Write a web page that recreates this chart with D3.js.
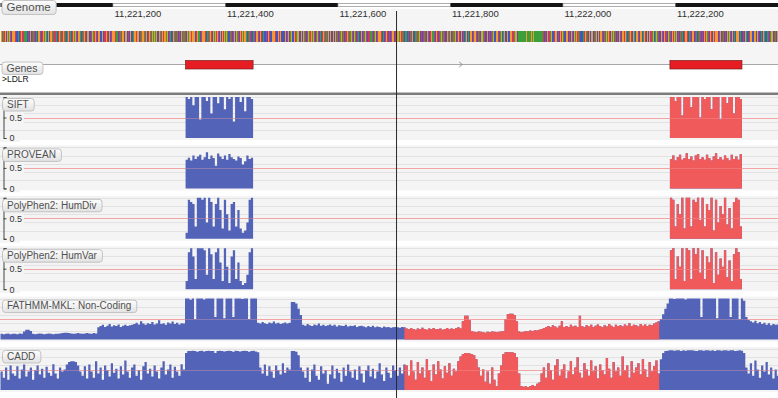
<!DOCTYPE html>
<html><head><meta charset="utf-8">
<script src="https://cdn.jsdelivr.net/npm/d3@7"></script>
<style>body{margin:0;background:#fff}svg{display:block;font-family:"Liberation Sans",Arial,sans-serif}</style>
</head><body><svg id="c" width="778" height="398"></svg>
<script>
// ---------- data ----------
const regionStart = 11221000, regionEnd = 11222383;
const rulerTicks = [11221000, 11221200, 11221400, 11221600, 11221800, 11222000, 11222200, 11222400];
const cursorPos = 11221704;
const geneName = "LDLR";
const exons = [[11221329, 11221449], [11222190, 11222318]];
const strandArrowPos = 11221819;
const sequence =
 "GGCTCAGTGCCTGAAGTTCCAGAGGCTTCTCAGCCTGGGTTCAGAGACGTCCTGGCTTAG" +
 "TCCAGCTGAGGTCATTGCAGGAACTGCCGAGCACTTGTGACCCTGCAGTCTGGAGTCCTA" +
 "GGTCACCTTGCAAGTTCGGAGCACCTGATGCTCAGAGTCCTTGGCAGTGATCCAGGACTC" +
 "AGCCTGTGGTTCAGACATCGGAGCTGAACCTTCAGTGCGTCAGGACTTGCAGCTCGATGG" +
 "CTTGAGCCTCAGGTGACTAGCCTTGGACTCGATGCAGGTCCTGAACTGCTTGAGCAGTCC" +
 "TGACGCTGGAGTTCAGCCTCAGGTGACATGCTGCAGTGCTCGAGGACCTTGACAGCTTCG" +
 "GAGCTCCAGTGACGTTCAGCACGTGGATCCTGCAGTTCGACGGAGCTCAGTCCTTGACGG" +
 "CAGTCTGCTCGACGTGGAGCTCATTGCCGACTGCAGGATCCTGTGCGAGCTCTGCAGTTC" +
 "GCTGCGAGTCCTCAGTGGACGCTCCAGTCGTGCCGAGGTCCTGCTCAGTGACGCTGCAGG" +
 "AGTCCTCGGACTGCAGGTTCCACGGTTCAGCCTGGAGTCACTTGCAGGCTCGACTGGTGA" +
 "CCTGAGGTCAGCATCTGGACTCAGTTGCAGGACCTGATCCAGGCTTCAGTTGCCTTGAGA" +
 "CTTCAGGTCCTGAGAGCTTCAGCCTGGTGCATCCTTGAGACCTCAGTGCAGGTCATTGCA" +
 "GAGCCTTCACTGGTCCTAGAGTCAGGCTTCCTGAGTGCAGTCCTTGGAGACTGCAGTCCG" +
 "TGAGCTCAGTTCCAGGACTGGCTTCAGAGTCCTGGTGCAGACTTCCAGGTCATCAGTGCC" +
 "TGGAGCTCAAGTCCTGGCAGTTCCAGACGTGCTCAGGTCCTGAGCTTCAGGTCCAGTCAC" +
 "GGTCCTGAGCTTCAGGTGCCAAAGAAAAGAAAAAAGAAAAAAAGAAAGAAAAAAAGAAAA" +
 "AAGAGTCCTGCAGCTTCAGGTCACTGGAGCCTGCAGTTCGAGCTCAGGACTTGCAGTCCTG" +
 "GAGCTCAGTGCCTCGACTGGAGTCCAGCTGTGCCTCAGGACTGCTGAGCTCCAGTTGCAGG" +
 "TCCTGACGCTGAGCTCCAGGTCAGTGCTGGAGCCTCAGTTCCTGGACTGAGCTCAGTGCCG" +
 "AGGTCCTGCAGCTCTGAGTCCAGGACTGCTCAGTGCAGCTTCCTGGAGTCAGCTCGAGGTC" +
 "CTGCAGTGACCTCGAGCTGCAGTCCTGGACGTCAGCTGAGTCCTGCAGGTCGACTCCAGTG" +
 "CAGCTTGGAGTCCTGACGTCAGCTCCTGGAGCTGCAGTCACCTGAGGTCCAGCTCTGCAGG" +
 "ACTCCTGGAGCTCAGTGCAGGTCCTCAGCTGGACTCGAGTCCAGGTGCCTCAGCTGGAGTC" +
 "CTGCAGGTCAGCTCCTGGAGTCAGGCTCAGTGCC";
const baseColors = {A: "#3c9f3c", C: "#4455c2", G: "#f39a2e", T: "#cc3b60"};

const trackNames = ["SIFT", "PROVEAN", "PolyPhen2: HumDiv", "PolyPhen2: HumVar", "FATHMM-MKL: Non-Coding", "CADD"];
const binSize = 4; // bases per value
// exon-level scores (percent), exon 1 then exon 2
const siftExon1 = [100,95,100,80,100,100,45,100,100,90,100,60,100,100,85,100,100,70,100,95,100,40,100,100,88,100,65,100,100,95];
const siftExon2 = [100,100,90,100,100,55,100,100,100,75,100,100,100,50,100,95,100,100,70,100,100,100,45,100,100,85,100,100,60,100,100,95];
const proveanExon1 = [70,75,68,80,72,78,82,70,76,88,72,80,74,55,85,78,72,80,70,84,76,72,68,78,74,58,66,80,72,75];
const proveanExon2 = [72,80,68,76,82,70,74,86,72,78,68,80,84,72,76,70,82,74,68,78,86,72,76,70,80,74,68,82,72,78,70,84];
const humDivExon1 = [15,95,90,85,30,100,100,95,100,40,100,90,30,85,100,70,25,95,60,20,85,90,30,70,25,15,20,40,95,100];
const humDivExon2 = [100,95,30,85,60,100,25,100,100,30,95,90,100,45,100,30,85,70,100,20,95,40,80,60,100,35,75,25,90,100,95,30];
const humVarExon1 = [20,90,100,80,25,100,100,100,95,35,100,85,25,90,100,65,20,100,55,15,80,95,25,65,20,10,15,35,90,100];
const humVarExon2 = [95,100,25,80,55,100,20,100,95,25,100,85,100,40,95,25,80,65,100,15,90,35,75,55,95,30,70,20,85,100,90,25];
// genome-wide scores (percent), one value per bin from regionStart
const fathmmValues = [
 14,13,14,15,13,14,14,13,15,14, 20,24,24,21,
 14,13,14,15,14,13,14,15,14,13,14,14,15, 16,17,17,16,
 15,14,15,16,15,14,15,16,15,14,16,15,
 30,33,36,31,34,38,32,35,33,37,31,34,36,33,35,
 36,38,41,37,45,39,36,40,38,43,37,39,47,38,40,36,42,39,44,38,41,37,40,39,
 100,100,97,100,50,100,100,100,98,100,100,100,100,55,100,100,100,52,100,100,100,55,100,100,100,99,100,100,50,100,100,100,
 41,39,43,40,38,42,40,44,39,41,38,40,42,39,41,
 92,92,88,75,60,
 36,34,38,35,33,37,35,39,34,36,33,35,37,34,36,32,35,34,33,36,32,34,33,35,31,33,34,32,30,33,31,34,30,32,31,29,32,30,31,29,30,31,
 30,29,31,30,
 27,25,28,26,24,27,25,29,26,24,27,25,28,26,25,27,24,26,28,25,27,26,28,30,27,
 45,58,58,48,
 21,19,18,20,19,18,17,19,18,20,19,18,19,20,21,
 50,62,63,63,60,45,
 20,18,19,21,20,22,21,23,22,24,26,
 28,31,33,30,35,32,29,34,45,31,33,30,36,32,34,31,58,33,30,35,32,36,31,34,37,33,30,35,32,38,34,31,36,33,35,32,37,34,40,33,36,35,32,38,34,37,33,36,35,39,42,45,
 50,62,75,88,
 100,100,99,100,100,100,100,98,100,100,100,100,100,100,55,100,100,100,100,100,100,52,100,100,100,100,100,55,100,100,100,50,100,95,
 55,48,45,42,46,40,43,38,41,36,40,35,38,36,37];
const caddValues = [
 45,30,55,25,60,40,35,58,28,50,62,33,45,55,25,48,60,38,52,30,57,42,35,63,40,28,55,45,50,
 62,68,70,70,68,60,45,
 35,58,28,62,45,30,70,40,55,25,60,48,33,65,42,52,28,58,38,72,45,30,55,62,35,48,25,58,68,40,52,33,60,45,28,55,70,38,50,62,30,57,45,35,63,50,
 90,95,95,96,95,93,95,96,94,95,96,95,95,90,95,96,95,94,95,96,95,93,96,95,94,95,96,95,93,95,96,94,92,
 55,40,62,35,58,45,30,60,48,38,65,42,55,50,
 95,95,93,85,55,
 45,30,55,20,50,62,35,25,58,40,48,15,38,60,28,52,42,20,55,35,62,45,30,50,25,58,40,18,48,60,33,52,28,45,65,38,22,55,42,30,60,48,35,55,40,62,
 60,35,72,45,25,68,40,55,30,75,48,22,62,38,70,50,28,58,42,65,35,52,45,
 70,82,88,90,90,89,88,85,75,55,
 35,50,20,45,15,55,25,10,40,
 60,88,92,92,92,92,90,80,40,
 10,8,9,7,10,12,9,15,18,
 40,55,30,65,48,25,60,75,35,50,62,28,45,70,38,55,80,42,30,65,50,35,72,45,58,28,62,48,38,78,52,30,68,45,55,35,82,48,60,30,70,42,55,65,38,75,50,32,68,45,58,72,40,
 75,90,95,96,97,97,96,97,97,95,97,96,97,97,97,96,95,97,97,96,97,97,96,97,95,97,97,96,97,97,96,97,97,95,96,97,96,90,
 55,40,65,35,72,50,30,60,45,68,38,55,28,50,35];
const exonTracks = [[siftExon1, siftExon2], [proveanExon1, proveanExon2], [humDivExon1, humDivExon2], [humVarExon1, humVarExon2]];
const fullTracks = [fathmmValues, caddValues];
const redRangeExonTracks = [11221704, 11222383];
const redRangeFullTracks = [11221718, 11222171];
const axisTicks = [0, 0.5, 1];
const gridLevels = [0.2, 0.4, 0.6, 0.8, 1];

// ---------- drawing ----------
const W = 778, H = 398;
const FONT = '"Liberation Sans",Arial,sans-serif';
const svg = d3.select("#c");
const x = d3.scaleLinear().domain([regionStart, regionEnd]).range([0.5, W + 0.5]);
const BLUE = "#5363b7", RED = "#f05a5a";

const defs = svg.append("defs");
const grad = defs.append("linearGradient").attr("id", "btn").attr("x1", 0).attr("x2", 0).attr("y1", 0).attr("y2", 1);
grad.append("stop").attr("offset", "0%").attr("stop-color", "#fdfdfd");
grad.append("stop").attr("offset", "100%").attr("stop-color", "#e2e2e2");

function button(x0, y0, h, label, fs) {
  const g = svg.append("g");
  const t = g.append("text").attr("x", x0 + 5).attr("y", y0 + h / 2 + fs * 0.36)
    .attr("font-size", fs).attr("fill", "#505050").text(label);
  const w = t.node().getComputedTextLength() + 10;
  g.insert("rect", "text").attr("x", x0 + 0.5).attr("y", y0 + 0.5).attr("width", w).attr("height", h)
    .attr("rx", 3).attr("fill", "url(#btn)").attr("stroke", "#c2c2c2");
}

// sequence band background
svg.append("rect").attr("x", 0).attr("y", 9).attr("width", W).attr("height", 55).attr("fill", "#f5f5f5");

// ruler
const segs = d3.pairs(rulerTicks);
svg.append("g").selectAll("rect").data(segs).join("rect")
  .attr("x", d => x(d[0])).attr("y", (d, i) => i % 2 ? 3.5 : 3)
  .attr("width", d => x(d[1]) - x(d[0])).attr("height", (d, i) => i % 2 ? 3 : 4)
  .attr("fill", (d, i) => i % 2 ? "#fff" : "#151515")
  .attr("stroke", (d, i) => i % 2 ? "#9a9a9a" : "none").attr("stroke-width", 0.8);
const rulerAxis = svg.append("g").attr("transform", "translate(0,7)")
  .call(d3.axisBottom(x).tickValues(rulerTicks.slice(1, -1)).tickFormat(d3.format(",")).tickSize(0));
rulerAxis.select(".domain").remove();
rulerAxis.selectAll("text").attr("text-anchor", "start").attr("dx", 1).attr("dy", 0).attr("y", 9.5)
  .attr("font-size", 9.5).attr("fill", "#303030").attr("font-family", FONT);

// sequence
const bases = sequence.split("").map((b, i) => ({b, p: regionStart + i}));
svg.append("g").attr("shape-rendering", "crispEdges").selectAll("rect").data(bases.filter(d => d.p < regionEnd)).join("rect")
  .attr("x", d => x(d.p)).attr("y", 31).attr("width", d => x(d.p + 1) - x(d.p)).attr("height", 11)
  .attr("fill", d => baseColors[d.b]);

// gene track
svg.append("line").attr("x1", 0).attr("x2", W).attr("y1", 64.5).attr("y2", 64.5).attr("stroke", "#a8a8a8");
svg.append("path").attr("d", `M${x(strandArrowPos) - 2},62 L${x(strandArrowPos) + 1},64.5 L${x(strandArrowPos) - 2},67`)
  .attr("fill", "none").attr("stroke", "#8a8a8a").attr("stroke-width", 0.9);
svg.append("g").selectAll("rect").data(exons).join("rect")
  .attr("x", d => x(d[0])).attr("y", 60.5).attr("width", d => x(d[1]) - x(d[0])).attr("height", 8.5)
  .attr("fill", "#e61e24").attr("stroke", "#7a1c1c").attr("stroke-width", 0.7);
svg.append("text").attr("x", 2).attr("y", 81.5).attr("font-size", 8.5).attr("fill", "#111").text(">" + geneName);

// separator
svg.append("rect").attr("x", 0).attr("y", 92.5).attr("width", W).attr("height", 2.5).attr("fill", "#7c7c7c");

// score tracks
const trackH = 41;
const trackTop = i => 97 + i * 50.4;

function drawTrack(i, pieces, redRange, withAxis) {
  const top = trackTop(i);
  const y = d3.scaleLinear().domain([0, 1]).range([top + trackH, top]);
  const g = svg.append("g");
  g.append("rect").attr("x", 0).attr("y", top - 2).attr("width", W).attr("height", trackH + 4).attr("fill", "#f4f4f4");
  g.selectAll("line.grid").data(gridLevels).join("line").attr("class", "grid")
    .attr("x1", 0).attr("x2", W).attr("y1", d => Math.round(y(d)) + 0.5).attr("y2", d => Math.round(y(d)) + 0.5)
    .attr("stroke", "#e2e2e2");
  const midY = Math.round(y(0.5)) + 0.5;
  g.append("line").attr("x1", 0).attr("x2", W).attr("y1", midY).attr("y2", midY).attr("stroke", "#f3a5a5");

  const area = d3.area().curve(d3.curveStepAfter).x(d => x(d.p)).y0(y(0)).y1(d => y(d.v));
  const clipId = "clip" + i;
  defs.append("clipPath").attr("id", clipId).append("rect")
    .attr("x", x(redRange[0])).attr("y", top - 2).attr("width", x(redRange[1]) - x(redRange[0])).attr("height", trackH + 4);
  pieces.forEach(pc => {
    const pts = pc.values.map((v, k) => ({p: pc.start + k * binSize, v: v / 100}));
    pts.push({p: Math.min(pc.start + pc.values.length * binSize, pc.end), v: pc.values[pc.values.length - 1] / 100});
    g.append("path").attr("d", area(pts)).attr("fill", BLUE);
    g.append("path").attr("d", area(pts)).attr("fill", RED).attr("clip-path", `url(#${clipId})`);
  });
  g.append("line").attr("x1", 0).attr("x2", W).attr("y1", midY).attr("y2", midY)
    .attr("stroke", "#f3a5a5").attr("stroke-opacity", 0.35);

  if (withAxis) {
    g.append("rect").attr("x", 0).attr("y", midY - 6).attr("width", 24).attr("height", 12).attr("fill", "#f4f4f4");
    g.append("rect").attr("x", 0).attr("y", y(0) - 6).attr("width", 20).attr("height", 10).attr("fill", "#f4f4f4");
    const ax = g.append("g").attr("transform", "translate(3.5,0)")
      .call(d3.axisRight(y).tickValues(axisTicks).tickSize(3).tickFormat(d => d === 1 ? "" : d));
    ax.select(".domain").attr("stroke", "#444");
    ax.selectAll(".tick line").attr("stroke", "#444");
    ax.selectAll("text").attr("x", 6).attr("font-size", 9).attr("fill", "#333").attr("font-family", FONT);
  }
  button(2, top + 1, 12.5, trackNames[i], 10);
}

exonTracks.forEach((vals, i) => {
  drawTrack(i, vals.map((v, k) => ({start: exons[k][0], end: exons[k][1], values: v})), redRangeExonTracks, true);
});
fullTracks.forEach((vals, k) => {
  drawTrack(4 + k, [{start: regionStart, end: regionEnd + binSize, values: vals}], redRangeFullTracks, false);
});

// cursor
svg.append("line").attr("x1", x(cursorPos)).attr("x2", x(cursorPos)).attr("y1", 11).attr("y2", H)
  .attr("stroke", "#2a2a2a").attr("stroke-width", 1);

// top buttons
button(1.5, 0, 14, "Genome", 11.5);
button(1.5, 61.5, 12.5, "Genes", 10.5);
</script></body></html>
